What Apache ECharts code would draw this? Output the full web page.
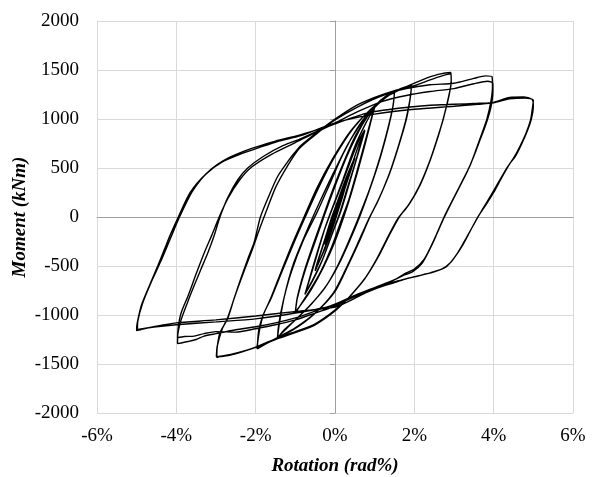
<!DOCTYPE html>
<html>
<head>
<meta charset="utf-8">
<script src="https://cdn.jsdelivr.net/npm/echarts@6/dist/echarts.min.js"></script>
<style>
  html, body { margin: 0; padding: 0; background: #fff; }
  #chart { width: 596px; height: 477px; }
</style>
</head>
<body>
<div id="chart"></div>
<script>
// [rotation (rad%), moment (kNm)], one array per amplitude,
// each holding two cycles in loading order
const loop025 = [[0,0],[0.12,140],[0.25,290],
  [0.2,220],[0.1,90],[0,-30],[-0.12,-150],[-0.25,-270],
  [-0.2,-200],[-0.1,-90],[0,30],[0.12,160],[0.25,300],
  [0.18,210],[0.05,50],[-0.05,-60],[-0.15,-170],[-0.26,-280]];

const loop050 = [[-0.2,-190],[-0.05,0],[0.1,170],[0.3,400],[0.5,600],
  [0.42,500],[0.25,290],[0.1,90],[-0.05,-100],[-0.25,-320],[-0.5,-540],
  [-0.42,-430],[-0.25,-220],[-0.08,0],[0.1,200],[0.3,420],[0.5,610],
  [0.4,480],[0.22,260],[0.05,50],[-0.1,-130],[-0.3,-360],[-0.5,-550]];

const loop075 = [[-0.42,-440],[-0.2,-170],[-0.02,20],[0.2,260],[0.45,560],[0.62,760],[0.75,880],
  [0.68,780],[0.52,560],[0.33,300],[0.15,60],[-0.05,-150],[-0.3,-420],[-0.55,-630],[-0.75,-780],
  [-0.68,-680],[-0.5,-430],[-0.3,-170],[-0.1,50],[0.14,300],[0.4,580],[0.6,780],[0.75,890],
  [0.66,770],[0.5,540],[0.3,280],[0.12,40],[-0.08,-180],[-0.32,-440],[-0.55,-640],[-0.76,-790]];

const loop100 = [[-0.68,-690],[-0.45,-380],[-0.25,-110],[-0.08,80],[0.2,380],[0.5,720],[0.78,960],[1.0,1120],
  [0.92,1000],[0.77,760],[0.58,480],[0.38,200],[0.22,0],[0,-250],[-0.3,-520],[-0.6,-740],[-0.85,-890],[-1.0,-970],
  [-0.95,-820],[-0.78,-560],[-0.55,-280],[-0.33,-30],[-0.1,230],[0.18,520],[0.48,800],[0.77,1000],[1.0,1130],
  [0.9,980],[0.74,740],[0.55,460],[0.35,180],[0.17,-20],[-0.05,-270],[-0.35,-550],[-0.65,-760],[-1.0,-980]];

const loop150 = [[-0.95,-830],[-0.75,-540],[-0.5,-250],[-0.3,-20],[-0.05,260],[0.3,620],[0.7,950],[1.05,1150],[1.3,1240],[1.5,1280],
  [1.47,1150],[1.35,920],[1.15,620],[0.9,310],[0.62,0],[0.35,-260],[0.1,-480],[-0.2,-690],[-0.6,-890],[-1.0,-1050],[-1.3,-1160],[-1.45,-1235],
  [-1.42,-1100],[-1.3,-850],[-1.1,-560],[-0.8,-240],[-0.45,50],[-0.15,320],[0.2,640],[0.6,930],[1.0,1130],[1.3,1230],[1.5,1270],
  [1.46,1130],[1.33,900],[1.12,590],[0.87,280],[0.58,-20],[0.3,-290],[0.05,-510],[-0.25,-720],[-0.65,-910],[-1.05,-1070],[-1.45,-1230]];

const loop200 = [[-1.4,-1080],[-1.27,-800],[-1.05,-480],[-0.72,-150],[-0.4,140],[-0.05,440],[0.35,760],[0.8,1030],[1.25,1210],[1.6,1300],[1.93,1345],
  [1.9,1220],[1.8,1000],[1.6,720],[1.38,450],[1.1,180],[0.88,0],[0.6,-260],[0.3,-520],[0,-760],[-0.5,-980],[-1.0,-1130],[-1.5,-1240],[-1.96,-1345],
  [-1.92,-1150],[-1.8,-990],[-1.62,-830],[-1.35,-550],[-1.05,-250],[-0.78,0],[-0.45,300],[-0.05,600],[0.4,880],[0.85,1080],[1.3,1230],[1.65,1310],[1.93,1335],
  [1.89,1200],[1.78,980],[1.58,700],[1.35,420],[1.08,160],[0.85,-20],[0.55,-290],[0.25,-550],[-0.05,-780],[-0.55,-1000],[-1.05,-1150],[-1.55,-1255],[-1.97,-1340]];

const loop300 = [[-1.9,-1150],[-1.8,-990],[-1.6,-820],[-1.3,-520],[-1.0,-230],[-0.75,0],[-0.4,310],[0,620],[0.45,900],[0.9,1100],[1.35,1240],[1.8,1330],[2.2,1400],[2.6,1455],[2.92,1475],
  [2.93,1400],[2.88,1250],[2.76,1050],[2.6,820],[2.4,580],[2.15,330],[1.9,150],[1.62,0],[1.35,-200],[1.1,-400],[0.8,-600],[0.4,-800],[0,-950],[-0.5,-1090],[-1.0,-1170],[-1.4,-1225],[-1.95,-1320],[-2.3,-1370],[-2.63,-1408],[-2.9,-1425],[-2.98,-1435],
  [-2.97,-1330],[-2.9,-1180],[-2.71,-1040],[-2.55,-840],[-2.38,-635],[-2.2,-430],[-2.04,-260],[-1.88,0],[-1.65,230],[-1.45,411],[-1.2,560],[-1.03,650],[-0.86,730],[-0.4,880],[0,1000],[0.5,1130],[1.0,1220],[1.5,1290],[2.0,1340],[2.4,1400],[2.7,1440],[2.92,1460],
  [2.93,1380],[2.86,1220],[2.73,1000],[2.57,790],[2.37,550],[2.12,310],[1.85,120],[1.58,-20],[1.3,-230],[1.05,-430],[0.75,-630],[0.35,-820],[0,-960],[-0.5,-1100],[-1.0,-1180],[-1.5,-1250],[-2.0,-1330],[-2.5,-1390],[-2.8,-1415],[-2.99,-1425]];

const loop400 = [[-2.97,-1320],[-2.85,-1150],[-2.7,-1020],[-2.5,-780],[-2.3,-560],[-2.1,-350],[-1.9,-120],[-1.75,40],[-1.5,300],[-1.2,520],[-0.9,700],[-0.4,870],[0,990],[0.6,1130],[1.2,1240],[1.8,1310],[2.4,1350],[3.0,1365],[3.5,1415],[3.8,1440],[3.96,1430],
  [3.97,1330],[3.93,1180],[3.83,1000],[3.7,850],[3.55,680],[3.4,520],[3.2,360],[3.0,200],[2.75,0],[2.5,-230],[2.25,-430],[2.0,-530],[1.75,-580],[1.5,-640],[1.0,-720],[0.5,-800],[0,-890],[-0.5,-960],[-1.0,-1030],[-1.5,-1080],[-2.0,-1120],[-2.5,-1150],[-3.0,-1190],[-3.3,-1215],[-3.5,-1250],[-3.7,-1270],[-3.97,-1292],
  [-3.96,-1190],[-3.88,-1050],[-3.72,-874],[-3.55,-700],[-3.38,-533],[-3.2,-360],[-3.05,-194],[-2.9,0],[-2.7,200],[-2.45,380],[-2.2,500],[-1.8,620],[-1.3,730],[-0.86,800],[0,960],[0.6,1080],[1.2,1180],[1.8,1240],[2.4,1280],[3.0,1310],[3.5,1360],[3.85,1385],[3.98,1365],
  [3.98,1280],[3.93,1120],[3.8,940],[3.66,790],[3.5,620],[3.33,460],[3.13,300],[2.93,140],[2.7,-50],[2.45,-280],[2.2,-470],[1.95,-560],[1.7,-600],[1.4,-660],[0.9,-740],[0.4,-820],[0,-910],[-0.5,-980],[-1.0,-1050],[-1.5,-1100],[-2.0,-1140],[-2.5,-1175],[-3.0,-1170],[-3.3,-1190],[-3.55,-1215],[-3.8,-1220],[-3.97,-1232]];

const loop500 = [[-3.95,-1120],[-3.88,-980],[-3.7,-800],[-3.5,-580],[-3.3,-370],[-3.1,-180],[-2.92,0],[-2.7,190],[-2.4,380],[-2.1,510],[-1.6,640],[-1.0,760],[-0.4,880],[0,950],[0.8,1060],[1.6,1110],[2.4,1140],[3.0,1150],[3.6,1160],[4.0,1170],[4.4,1220],[4.75,1225],[4.97,1200],
  [5.0,1130],[4.95,1000],[4.85,880],[4.7,740],[4.55,620],[4.4,540],[4.2,400],[4.0,250],[3.8,120],[3.6,0],[3.4,-150],[3.2,-300],[3.0,-420],[2.8,-510],[2.5,-560],[2.2,-590],[1.8,-630],[1.5,-670],[1.1,-720],[0.8,-770],[0.4,-850],[0,-920],[-0.9,-960],[-2,-1010],[-3,-1050],[-4,-1080],[-4.3,-1100],[-4.7,-1130],[-4.9,-1150],[-5.0,-1160],
  [-5.0,-1130],[-4.97,-1050],[-4.88,-900],[-4.72,-740],[-4.47,-500],[-4.3,-330],[-4.15,-180],[-3.95,0],[-3.65,250],[-3.25,440],[-2.85,560],[-2.4,640],[-1.9,710],[-1.45,770],[-0.86,830],[0,960],[1.0,1050],[2.0,1100],[3.0,1130],[3.6,1150],[4.0,1165],[4.4,1205],[4.8,1215],[5.0,1190],
  [4.98,1120],[4.93,990],[4.82,860],[4.66,720],[4.5,600],[4.33,500],[4.13,360],[3.93,220],[3.72,80],[3.52,-60],[3.3,-220],[3.1,-360],[2.9,-470],[2.7,-530],[2.4,-570],[2.0,-610],[1.6,-650],[1.2,-700],[0.8,-760],[0.4,-830],[0,-900],[-1,-980],[-2,-1040],[-3,-1070],[-4,-1100],[-4.5,-1120],[-4.85,-1140],[-4.98,-1150],
  [-4.97,-1060],[-4.85,-880],[-4.65,-680],[-4.4,-460],[-4.15,-220],[-3.92,0],[-3.6,260],[-3.2,460],[-2.7,600],[-2.1,700],[-1.5,775],[-0.9,835],[0,950]];

const FONT = 'Liberation Serif';
const path = [].concat(loop025, loop050, loop075, loop100, loop150, loop200, loop300, loop400, loop500);

const chart = echarts.init(document.getElementById('chart'));
chart.setOption({
  backgroundColor: '#fff',
  animation: false,
  grid: { left: 97, right: 23, top: 21, bottom: 64, containLabel: false, outerBoundsMode: 'none' },
  xAxis: [
    {
      type: 'value', min: -6, max: 6, interval: 2,
      axisLine: { show: false, onZero: false },
      axisTick: { show: false },
      axisLabel: { formatter: '{value}%', fontFamily: FONT, fontSize: 19, color: '#000', margin: 14 },
      splitLine: { lineStyle: { color: '#d9d9d9', width: 1 } },
      name: 'Rotation (rad%)', nameLocation: 'middle', nameGap: 44, nameMoveOverlap: false,
      nameTextStyle: { fontFamily: FONT, fontSize: 19, fontWeight: 'bold', fontStyle: 'italic', color: '#000' }
    },
    {
      // horizontal zero line
      type: 'value', min: -6, max: 6, interval: 2,
      axisLine: { show: true, onZero: true, onZeroAxisIndex: 0, lineStyle: { color: '#a0a0a0', width: 1 } },
      axisTick: { show: false },
      axisLabel: { show: false },
      splitLine: { show: false }
    }
  ],
  yAxis: [
    {
      type: 'value', min: -2000, max: 2000, interval: 500, position: 'left',
      axisLine: { show: false, onZero: false },
      axisTick: { show: false },
      axisLabel: { formatter: v => String(v), fontFamily: FONT, fontSize: 19, color: '#000', margin: 18 },
      splitLine: { lineStyle: { color: '#d9d9d9', width: 1 } },
      name: 'Moment (kNm)', nameLocation: 'middle', nameGap: 67, nameMoveOverlap: false,
      nameTextStyle: { fontFamily: FONT, fontSize: 19, fontWeight: 'bold', fontStyle: 'italic', color: '#000' }
    },
    {
      // vertical zero line with its small ticks
      type: 'value', min: -2000, max: 2000, interval: 500, position: 'right',
      axisLine: { show: true, onZero: true, onZeroAxisIndex: 0, lineStyle: { color: '#a0a0a0', width: 1 } },
      axisTick: { show: true, inside: true, length: 5, lineStyle: { color: '#a0a0a0' } },
      axisLabel: { show: false },
      splitLine: { show: false }
    }
  ],
  series: [
    {
      type: 'line',
      xAxisIndex: 0,
      yAxisIndex: 0,
      data: path,
      showSymbol: false,
      symbol: 'none',
      smooth: 0.25,
      lineStyle: { color: '#000', width: 1.4 }
    }
  ]
});
</script>
</body>
</html>
